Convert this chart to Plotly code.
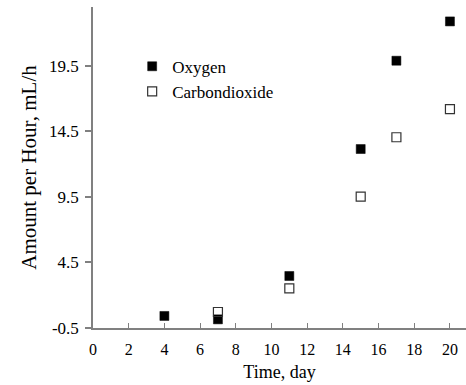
import plotly.graph_objects as go

days = [4, 7, 11, 15, 17, 20]
oxygen = [0.42, 0.16, 3.47, 13.16, 19.9, 22.9]
co2_days = [7, 11, 15, 17, 20]
co2 = [0.72, 2.53, 9.52, 14.06, 16.2]
y_ticks = [-0.5, 4.5, 9.5, 14.5, 19.5]
y_tick_labels = ["-0.5", "4.5", "9.5", "14.5", "19.5"]
x_ticks = list(range(0, 21, 2))

font = "Liberation Serif"

fig = go.Figure()
fig.add_trace(go.Scatter(x=days, y=oxygen, mode="markers", name="Oxygen",
                         marker=dict(symbol="square", size=9, color="black",
                                     line=dict(color="black", width=0.5))))
fig.add_trace(go.Scatter(x=co2_days, y=co2, mode="markers", name="Carbondioxide",
                         marker=dict(symbol="square-open", size=9, color="#333333",
                                     line=dict(width=1.2))))

fig.update_layout(
    width=466, height=385,
    margin=dict(l=93, r=0, t=7, b=57),
    paper_bgcolor="white", plot_bgcolor="white",
    font=dict(family=font, size=16, color="black"),
    showlegend=True,
    legend=dict(x=0.105, y=0.87, xanchor="left", yanchor="top",
                font=dict(family=font, size=17, color="black"), bgcolor="rgba(0,0,0,0)",
                itemwidth=30, tracegroupgap=0),
    xaxis=dict(range=[0, 20.9], tickvals=x_ticks, ticks="inside", ticklen=5,
               tickcolor="#808080", showline=True, linecolor="#808080", linewidth=1.5,
               showgrid=False, zeroline=False, ticklabelstandoff=6,
               tickfont=dict(family=font, size=16, color="black"),
               title=dict(text="Time, day", font=dict(family=font, size=18), standoff=8)),
    yaxis=dict(range=[-0.5, 24], tickvals=y_ticks, ticktext=y_tick_labels,
               ticks="outside", ticklen=6, tickcolor="#808080", tickwidth=1.5,
               showline=True, linecolor="#808080", linewidth=1.5, showgrid=False,
               zeroline=False, ticklabelstandoff=3,
               tickfont=dict(family=font, size=17, color="black"),
               title=dict(text="Amount per Hour, mL/h", font=dict(family=font, size=21), standoff=7)),
)

fig.write_html("out.html")
